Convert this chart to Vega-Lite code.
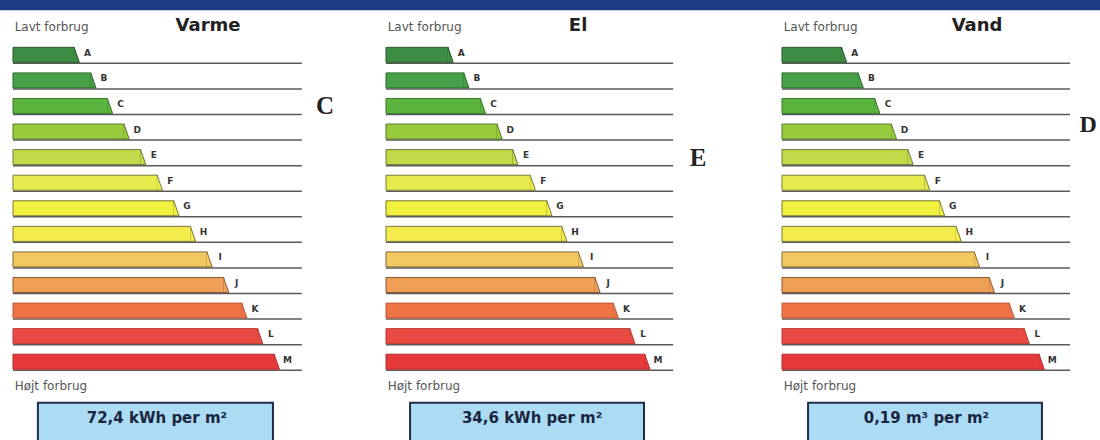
{
  "$schema": "https://vega.github.io/schema/vega-lite/v6.json",
  "padding": 0,
  "spacing": 0,
  "bounds": "flush",
  "background": "white",
  "config": {"view": {"stroke": null}, "concat": {"spacing": 0}},
  "datasets": {
    "varme": [
      {"grade": "A", "row": 1, "len": 4}, {"grade": "B", "row": 2, "len": 5}, {"grade": "C", "row": 3, "len": 6},
      {"grade": "D", "row": 4, "len": 7}, {"grade": "E", "row": 5, "len": 8}, {"grade": "F", "row": 6, "len": 9},
      {"grade": "G", "row": 7, "len": 10}, {"grade": "H", "row": 8, "len": 11}, {"grade": "I", "row": 9, "len": 12},
      {"grade": "J", "row": 10, "len": 13}, {"grade": "K", "row": 11, "len": 14.1}, {"grade": "L", "row": 12, "len": 15.05},
      {"grade": "M", "row": 13, "len": 16.05}
    ],
    "el": [
      {"grade": "A", "row": 1, "len": 4.05}, {"grade": "B", "row": 2, "len": 5}, {"grade": "C", "row": 3, "len": 6},
      {"grade": "D", "row": 4, "len": 7}, {"grade": "E", "row": 5, "len": 7.95}, {"grade": "F", "row": 6, "len": 9},
      {"grade": "G", "row": 7, "len": 10}, {"grade": "H", "row": 8, "len": 10.9}, {"grade": "I", "row": 9, "len": 11.9},
      {"grade": "J", "row": 10, "len": 12.9}, {"grade": "K", "row": 11, "len": 14}, {"grade": "L", "row": 12, "len": 15},
      {"grade": "M", "row": 13, "len": 15.9}
    ],
    "vand": [
      {"grade": "A", "row": 1, "len": 3.9}, {"grade": "B", "row": 2, "len": 4.9}, {"grade": "C", "row": 3, "len": 5.9},
      {"grade": "D", "row": 4, "len": 6.9}, {"grade": "E", "row": 5, "len": 7.9}, {"grade": "F", "row": 6, "len": 8.9},
      {"grade": "G", "row": 7, "len": 9.8}, {"grade": "H", "row": 8, "len": 10.8}, {"grade": "I", "row": 9, "len": 11.9},
      {"grade": "J", "row": 10, "len": 12.8}, {"grade": "K", "row": 11, "len": 14}, {"grade": "L", "row": 12, "len": 14.9},
      {"grade": "M", "row": 13, "len": 15.8}
    ]
  },
  "hconcat": [
    {
      "width": 373, "height": 440,
      "data": {"name": "varme"},
      "layer": [
        {"data": {"values": [{}]}, "mark": {"type": "rect", "fill": "#1d3c87", "clip": true},
         "encoding": {"x": {"datum": -5, "type": "quantitative", "scale": {"domain": [-0.783, 21.687], "nice": false, "zero": false}, "axis": null}, "x2": {"datum": 40},
                      "y": {"datum": -2, "type": "quantitative", "scale": {"domain": [-0.949, 15.866], "reverse": true, "nice": false, "zero": false}, "axis": null}, "y2": {"datum": -0.74}}},
        {"mark": {"type": "rule", "color": "#5a5a5a", "strokeWidth": 1.5, "yOffset": 8.5},
         "encoding": {"x": {"datum": 0, "type": "quantitative", "scale": {"domain": [-0.783, 21.687], "nice": false, "zero": false}, "axis": null}, "x2": {"datum": 17.4},
                      "y": {"field": "row", "type": "quantitative", "scale": {"domain": [-0.949, 15.866], "reverse": true, "nice": false, "zero": false}, "axis": null}}},
        {"mark": {"type": "bar", "orient": "horizontal", "size": 15, "xOffset": -5, "strokeWidth": 1},
         "encoding": {"x": {"field": "len", "type": "quantitative", "scale": {"domain": [-0.783, 21.687], "nice": false, "zero": false}, "axis": null}, "x2": {"datum": 0},
                      "y": {"field": "row", "type": "quantitative", "scale": {"domain": [-0.949, 15.866], "reverse": true, "nice": false, "zero": false}, "axis": null},
                      "fill": {"field": "grade", "type": "nominal", "legend": null, "scale": {"domain": ["A","B","C","D","E","F","G","H","I","J","K","L","M"], "range": ["#3c8c44","#47a047","#5ab43e","#98ca3e","#c2da4a","#e6ec4e","#f2f03e","#f4ec4c","#f2c860","#efa056","#ee7446","#e94b42","#e6393a"]}},
                      "stroke": {"field": "grade", "type": "nominal", "legend": null, "scale": {"domain": ["A","B","C","D","E","F","G","H","I","J","K","L","M"], "range": ["#2a5a2e","#2e6a30","#3c7a2c","#5a7a2a","#6a7a3a","#7a7a3a","#7a7a3a","#7a7a3a","#8a6a3a","#8a5a3a","#c05a3a","#b83a34","#b82e30"]}}}},
        {"mark": {"type": "point", "shape": "M-0.7,-1 L0,1 L-0.7,1", "size": 225, "filled": true, "opacity": 1, "strokeWidth": 1},
         "encoding": {"x": {"field": "len", "type": "quantitative", "scale": {"domain": [-0.783, 21.687], "nice": false, "zero": false}, "axis": null},
                      "y": {"field": "row", "type": "quantitative", "scale": {"domain": [-0.949, 15.866], "reverse": true, "nice": false, "zero": false}, "axis": null},
                      "fill": {"field": "grade", "type": "nominal", "legend": null, "scale": {"domain": ["A","B","C","D","E","F","G","H","I","J","K","L","M"], "range": ["#3c8c44","#47a047","#5ab43e","#98ca3e","#c2da4a","#e6ec4e","#f2f03e","#f4ec4c","#f2c860","#efa056","#ee7446","#e94b42","#e6393a"]}},
                      "stroke": {"field": "grade", "type": "nominal", "legend": null, "scale": {"domain": ["A","B","C","D","E","F","G","H","I","J","K","L","M"], "range": ["#2a5a2e","#2e6a30","#3c7a2c","#5a7a2a","#6a7a3a","#7a7a3a","#7a7a3a","#7a7a3a","#8a6a3a","#8a5a3a","#c05a3a","#b83a34","#b82e30"]}}}},
        {"mark": {"type": "text", "font": "DejaVu Sans", "fontWeight": "bold", "fontSize": 9, "color": "#333", "align": "center", "dx": 8, "dy": -2},
         "encoding": {"x": {"field": "len", "type": "quantitative", "scale": {"domain": [-0.783, 21.687], "nice": false, "zero": false}, "axis": null},
                      "y": {"field": "row", "type": "quantitative", "scale": {"domain": [-0.949, 15.866], "reverse": true, "nice": false, "zero": false}, "axis": null},
                      "text": {"field": "grade"}}},
        {"data": {"values": [{}]}, "mark": {"type": "text", "text": "Lavt forbrug", "font": "DejaVu Sans", "fontSize": 12, "color": "#555", "align": "left", "baseline": "middle"},
         "encoding": {"x": {"datum": 0.1, "type": "quantitative", "scale": {"domain": [-0.783, 21.687], "nice": false, "zero": false}, "axis": null},
                      "y": {"datum": -0.07, "type": "quantitative", "scale": {"domain": [-0.949, 15.866], "reverse": true, "nice": false, "zero": false}, "axis": null}}},
        {"data": {"values": [{}]}, "mark": {"type": "text", "text": "Højt forbrug", "font": "DejaVu Sans", "fontSize": 12, "color": "#555", "align": "left", "baseline": "middle"},
         "encoding": {"x": {"datum": 0.1, "type": "quantitative", "scale": {"domain": [-0.783, 21.687], "nice": false, "zero": false}, "axis": null},
                      "y": {"datum": 13.95, "type": "quantitative", "scale": {"domain": [-0.949, 15.866], "reverse": true, "nice": false, "zero": false}, "axis": null}}},
        {"data": {"values": [{}]}, "mark": {"type": "text", "text": "Varme", "font": "DejaVu Sans", "fontWeight": "bold", "fontSize": 18, "color": "#222", "align": "center", "baseline": "middle"},
         "encoding": {"x": {"datum": 11.75, "type": "quantitative", "scale": {"domain": [-0.783, 21.687], "nice": false, "zero": false}, "axis": null},
                      "y": {"datum": -0.11, "type": "quantitative", "scale": {"domain": [-0.949, 15.866], "reverse": true, "nice": false, "zero": false}, "axis": null}}},
        {"data": {"values": [{}]}, "mark": {"type": "text", "text": "C", "font": "Liberation Serif", "fontWeight": "bold", "fontSize": 25, "color": "#222", "align": "center", "baseline": "middle", "clip": true},
         "encoding": {"x": {"datum": 18.8, "type": "quantitative", "scale": {"domain": [-0.783, 21.687], "nice": false, "zero": false}, "axis": null},
                      "y": {"datum": 3.0, "type": "quantitative", "scale": {"domain": [-0.949, 15.866], "reverse": true, "nice": false, "zero": false}, "axis": null}}},
        {"data": {"values": [{}]}, "mark": {"type": "rect", "fill": "#acdcf4", "stroke": "#1f2d47", "strokeWidth": 2, "clip": true},
         "encoding": {"x": {"datum": 1.5, "type": "quantitative", "scale": {"domain": [-0.783, 21.687], "nice": false, "zero": false}, "axis": null}, "x2": {"datum": 15.66},
                      "y": {"datum": 14.6, "type": "quantitative", "scale": {"domain": [-0.949, 15.866], "reverse": true, "nice": false, "zero": false}, "axis": null}, "y2": {"datum": 16.5}}},
        {"data": {"values": [{}]}, "mark": {"type": "text", "text": "72,4 kWh per m²", "font": "DejaVu Sans", "fontWeight": "bold", "fontSize": 15, "color": "#1a2540", "align": "center", "baseline": "middle"},
         "encoding": {"x": {"datum": 8.67, "type": "quantitative", "scale": {"domain": [-0.783, 21.687], "nice": false, "zero": false}, "axis": null},
                      "y": {"datum": 15.2, "type": "quantitative", "scale": {"domain": [-0.949, 15.866], "reverse": true, "nice": false, "zero": false}, "axis": null}}}
      ]
    },
    {
      "width": 396, "height": 440,
      "data": {"name": "el"},
      "layer": [
        {"data": {"values": [{}]}, "mark": {"type": "rect", "fill": "#1d3c87", "clip": true},
         "encoding": {"x": {"datum": -5, "type": "quantitative", "scale": {"domain": [-0.783, 23.07], "nice": false, "zero": false}, "axis": null}, "x2": {"datum": 40},
                      "y": {"datum": -2, "type": "quantitative", "scale": {"domain": [-0.949, 15.866], "reverse": true, "nice": false, "zero": false}, "axis": null}, "y2": {"datum": -0.74}}},
        {"mark": {"type": "rule", "color": "#5a5a5a", "strokeWidth": 1.5, "yOffset": 8.5},
         "encoding": {"x": {"datum": 0, "type": "quantitative", "scale": {"domain": [-0.783, 23.07], "nice": false, "zero": false}, "axis": null}, "x2": {"datum": 17.3},
                      "y": {"field": "row", "type": "quantitative", "scale": {"domain": [-0.949, 15.866], "reverse": true, "nice": false, "zero": false}, "axis": null}}},
        {"mark": {"type": "bar", "orient": "horizontal", "size": 15, "xOffset": -5, "strokeWidth": 1},
         "encoding": {"x": {"field": "len", "type": "quantitative", "scale": {"domain": [-0.783, 23.07], "nice": false, "zero": false}, "axis": null}, "x2": {"datum": 0},
                      "y": {"field": "row", "type": "quantitative", "scale": {"domain": [-0.949, 15.866], "reverse": true, "nice": false, "zero": false}, "axis": null},
                      "fill": {"field": "grade", "type": "nominal", "legend": null, "scale": {"domain": ["A","B","C","D","E","F","G","H","I","J","K","L","M"], "range": ["#3c8c44","#47a047","#5ab43e","#98ca3e","#c2da4a","#e6ec4e","#f2f03e","#f4ec4c","#f2c860","#efa056","#ee7446","#e94b42","#e6393a"]}},
                      "stroke": {"field": "grade", "type": "nominal", "legend": null, "scale": {"domain": ["A","B","C","D","E","F","G","H","I","J","K","L","M"], "range": ["#2a5a2e","#2e6a30","#3c7a2c","#5a7a2a","#6a7a3a","#7a7a3a","#7a7a3a","#7a7a3a","#8a6a3a","#8a5a3a","#c05a3a","#b83a34","#b82e30"]}}}},
        {"mark": {"type": "point", "shape": "M-0.7,-1 L0,1 L-0.7,1", "size": 225, "filled": true, "opacity": 1, "strokeWidth": 1},
         "encoding": {"x": {"field": "len", "type": "quantitative", "scale": {"domain": [-0.783, 23.07], "nice": false, "zero": false}, "axis": null},
                      "y": {"field": "row", "type": "quantitative", "scale": {"domain": [-0.949, 15.866], "reverse": true, "nice": false, "zero": false}, "axis": null},
                      "fill": {"field": "grade", "type": "nominal", "legend": null, "scale": {"domain": ["A","B","C","D","E","F","G","H","I","J","K","L","M"], "range": ["#3c8c44","#47a047","#5ab43e","#98ca3e","#c2da4a","#e6ec4e","#f2f03e","#f4ec4c","#f2c860","#efa056","#ee7446","#e94b42","#e6393a"]}},
                      "stroke": {"field": "grade", "type": "nominal", "legend": null, "scale": {"domain": ["A","B","C","D","E","F","G","H","I","J","K","L","M"], "range": ["#2a5a2e","#2e6a30","#3c7a2c","#5a7a2a","#6a7a3a","#7a7a3a","#7a7a3a","#7a7a3a","#8a6a3a","#8a5a3a","#c05a3a","#b83a34","#b82e30"]}}}},
        {"mark": {"type": "text", "font": "DejaVu Sans", "fontWeight": "bold", "fontSize": 9, "color": "#333", "align": "center", "dx": 8, "dy": -2},
         "encoding": {"x": {"field": "len", "type": "quantitative", "scale": {"domain": [-0.783, 23.07], "nice": false, "zero": false}, "axis": null},
                      "y": {"field": "row", "type": "quantitative", "scale": {"domain": [-0.949, 15.866], "reverse": true, "nice": false, "zero": false}, "axis": null},
                      "text": {"field": "grade"}}},
        {"data": {"values": [{}]}, "mark": {"type": "text", "text": "Lavt forbrug", "font": "DejaVu Sans", "fontSize": 12, "color": "#555", "align": "left", "baseline": "middle"},
         "encoding": {"x": {"datum": 0.1, "type": "quantitative", "scale": {"domain": [-0.783, 23.07], "nice": false, "zero": false}, "axis": null},
                      "y": {"datum": -0.07, "type": "quantitative", "scale": {"domain": [-0.949, 15.866], "reverse": true, "nice": false, "zero": false}, "axis": null}}},
        {"data": {"values": [{}]}, "mark": {"type": "text", "text": "Højt forbrug", "font": "DejaVu Sans", "fontSize": 12, "color": "#555", "align": "left", "baseline": "middle"},
         "encoding": {"x": {"datum": 0.1, "type": "quantitative", "scale": {"domain": [-0.783, 23.07], "nice": false, "zero": false}, "axis": null},
                      "y": {"datum": 13.95, "type": "quantitative", "scale": {"domain": [-0.949, 15.866], "reverse": true, "nice": false, "zero": false}, "axis": null}}},
        {"data": {"values": [{}]}, "mark": {"type": "text", "text": "El", "font": "DejaVu Sans", "fontWeight": "bold", "fontSize": 18, "color": "#222", "align": "center", "baseline": "middle"},
         "encoding": {"x": {"datum": 11.57, "type": "quantitative", "scale": {"domain": [-0.783, 23.07], "nice": false, "zero": false}, "axis": null},
                      "y": {"datum": -0.11, "type": "quantitative", "scale": {"domain": [-0.949, 15.866], "reverse": true, "nice": false, "zero": false}, "axis": null}}},
        {"data": {"values": [{}]}, "mark": {"type": "text", "text": "E", "font": "Liberation Serif", "fontWeight": "bold", "fontSize": 25, "color": "#222", "align": "center", "baseline": "middle", "clip": true},
         "encoding": {"x": {"datum": 18.8, "type": "quantitative", "scale": {"domain": [-0.783, 23.07], "nice": false, "zero": false}, "axis": null},
                      "y": {"datum": 5.05, "type": "quantitative", "scale": {"domain": [-0.949, 15.866], "reverse": true, "nice": false, "zero": false}, "axis": null}}},
        {"data": {"values": [{}]}, "mark": {"type": "rect", "fill": "#acdcf4", "stroke": "#1f2d47", "strokeWidth": 2, "clip": true},
         "encoding": {"x": {"datum": 1.45, "type": "quantitative", "scale": {"domain": [-0.783, 23.07], "nice": false, "zero": false}, "axis": null}, "x2": {"datum": 15.54},
                      "y": {"datum": 14.6, "type": "quantitative", "scale": {"domain": [-0.949, 15.866], "reverse": true, "nice": false, "zero": false}, "axis": null}, "y2": {"datum": 16.5}}},
        {"data": {"values": [{}]}, "mark": {"type": "text", "text": "34,6 kWh per m²", "font": "DejaVu Sans", "fontWeight": "bold", "fontSize": 15, "color": "#1a2540", "align": "center", "baseline": "middle"},
         "encoding": {"x": {"datum": 8.8, "type": "quantitative", "scale": {"domain": [-0.783, 23.07], "nice": false, "zero": false}, "axis": null},
                      "y": {"datum": 15.2, "type": "quantitative", "scale": {"domain": [-0.949, 15.866], "reverse": true, "nice": false, "zero": false}, "axis": null}}}
      ]
    },
    {
      "width": 331, "height": 440,
      "data": {"name": "vand"},
      "layer": [
        {"data": {"values": [{}]}, "mark": {"type": "rect", "fill": "#1d3c87", "clip": true},
         "encoding": {"x": {"datum": -5, "type": "quantitative", "scale": {"domain": [-0.783, 19.157], "nice": false, "zero": false}, "axis": null}, "x2": {"datum": 40},
                      "y": {"datum": -2, "type": "quantitative", "scale": {"domain": [-0.949, 15.866], "reverse": true, "nice": false, "zero": false}, "axis": null}, "y2": {"datum": -0.74}}},
        {"mark": {"type": "rule", "color": "#5a5a5a", "strokeWidth": 1.5, "yOffset": 8.5},
         "encoding": {"x": {"datum": 0, "type": "quantitative", "scale": {"domain": [-0.783, 19.157], "nice": false, "zero": false}, "axis": null}, "x2": {"datum": 17.35},
                      "y": {"field": "row", "type": "quantitative", "scale": {"domain": [-0.949, 15.866], "reverse": true, "nice": false, "zero": false}, "axis": null}}},
        {"mark": {"type": "bar", "orient": "horizontal", "size": 15, "xOffset": -5, "strokeWidth": 1},
         "encoding": {"x": {"field": "len", "type": "quantitative", "scale": {"domain": [-0.783, 19.157], "nice": false, "zero": false}, "axis": null}, "x2": {"datum": 0},
                      "y": {"field": "row", "type": "quantitative", "scale": {"domain": [-0.949, 15.866], "reverse": true, "nice": false, "zero": false}, "axis": null},
                      "fill": {"field": "grade", "type": "nominal", "legend": null, "scale": {"domain": ["A","B","C","D","E","F","G","H","I","J","K","L","M"], "range": ["#3c8c44","#47a047","#5ab43e","#98ca3e","#c2da4a","#e6ec4e","#f2f03e","#f4ec4c","#f2c860","#efa056","#ee7446","#e94b42","#e6393a"]}},
                      "stroke": {"field": "grade", "type": "nominal", "legend": null, "scale": {"domain": ["A","B","C","D","E","F","G","H","I","J","K","L","M"], "range": ["#2a5a2e","#2e6a30","#3c7a2c","#5a7a2a","#6a7a3a","#7a7a3a","#7a7a3a","#7a7a3a","#8a6a3a","#8a5a3a","#c05a3a","#b83a34","#b82e30"]}}}},
        {"mark": {"type": "point", "shape": "M-0.7,-1 L0,1 L-0.7,1", "size": 225, "filled": true, "opacity": 1, "strokeWidth": 1},
         "encoding": {"x": {"field": "len", "type": "quantitative", "scale": {"domain": [-0.783, 19.157], "nice": false, "zero": false}, "axis": null},
                      "y": {"field": "row", "type": "quantitative", "scale": {"domain": [-0.949, 15.866], "reverse": true, "nice": false, "zero": false}, "axis": null},
                      "fill": {"field": "grade", "type": "nominal", "legend": null, "scale": {"domain": ["A","B","C","D","E","F","G","H","I","J","K","L","M"], "range": ["#3c8c44","#47a047","#5ab43e","#98ca3e","#c2da4a","#e6ec4e","#f2f03e","#f4ec4c","#f2c860","#efa056","#ee7446","#e94b42","#e6393a"]}},
                      "stroke": {"field": "grade", "type": "nominal", "legend": null, "scale": {"domain": ["A","B","C","D","E","F","G","H","I","J","K","L","M"], "range": ["#2a5a2e","#2e6a30","#3c7a2c","#5a7a2a","#6a7a3a","#7a7a3a","#7a7a3a","#7a7a3a","#8a6a3a","#8a5a3a","#c05a3a","#b83a34","#b82e30"]}}}},
        {"mark": {"type": "text", "font": "DejaVu Sans", "fontWeight": "bold", "fontSize": 9, "color": "#333", "align": "center", "dx": 8, "dy": -2},
         "encoding": {"x": {"field": "len", "type": "quantitative", "scale": {"domain": [-0.783, 19.157], "nice": false, "zero": false}, "axis": null},
                      "y": {"field": "row", "type": "quantitative", "scale": {"domain": [-0.949, 15.866], "reverse": true, "nice": false, "zero": false}, "axis": null},
                      "text": {"field": "grade"}}},
        {"data": {"values": [{}]}, "mark": {"type": "text", "text": "Lavt forbrug", "font": "DejaVu Sans", "fontSize": 12, "color": "#555", "align": "left", "baseline": "middle"},
         "encoding": {"x": {"datum": 0.1, "type": "quantitative", "scale": {"domain": [-0.783, 19.157], "nice": false, "zero": false}, "axis": null},
                      "y": {"datum": -0.07, "type": "quantitative", "scale": {"domain": [-0.949, 15.866], "reverse": true, "nice": false, "zero": false}, "axis": null}}},
        {"data": {"values": [{}]}, "mark": {"type": "text", "text": "Højt forbrug", "font": "DejaVu Sans", "fontSize": 12, "color": "#555", "align": "left", "baseline": "middle"},
         "encoding": {"x": {"datum": 0.1, "type": "quantitative", "scale": {"domain": [-0.783, 19.157], "nice": false, "zero": false}, "axis": null},
                      "y": {"datum": 13.95, "type": "quantitative", "scale": {"domain": [-0.949, 15.866], "reverse": true, "nice": false, "zero": false}, "axis": null}}},
        {"data": {"values": [{}]}, "mark": {"type": "text", "text": "Vand", "font": "DejaVu Sans", "fontWeight": "bold", "fontSize": 18, "color": "#222", "align": "center", "baseline": "middle"},
         "encoding": {"x": {"datum": 11.75, "type": "quantitative", "scale": {"domain": [-0.783, 19.157], "nice": false, "zero": false}, "axis": null},
                      "y": {"datum": -0.11, "type": "quantitative", "scale": {"domain": [-0.949, 15.866], "reverse": true, "nice": false, "zero": false}, "axis": null}}},
        {"data": {"values": [{}]}, "mark": {"type": "text", "text": "D", "font": "Liberation Serif", "fontWeight": "bold", "fontSize": 24, "color": "#222", "align": "center", "baseline": "middle"},
         "encoding": {"x": {"datum": 18.45, "type": "quantitative", "scale": {"domain": [-0.783, 19.157], "nice": false, "zero": false}, "axis": null},
                      "y": {"datum": 3.75, "type": "quantitative", "scale": {"domain": [-0.949, 15.866], "reverse": true, "nice": false, "zero": false}, "axis": null}}},
        {"data": {"values": [{}]}, "mark": {"type": "rect", "fill": "#acdcf4", "stroke": "#1f2d47", "strokeWidth": 2, "clip": true},
         "encoding": {"x": {"datum": 1.57, "type": "quantitative", "scale": {"domain": [-0.783, 19.157], "nice": false, "zero": false}, "axis": null}, "x2": {"datum": 15.66},
                      "y": {"datum": 14.6, "type": "quantitative", "scale": {"domain": [-0.949, 15.866], "reverse": true, "nice": false, "zero": false}, "axis": null}, "y2": {"datum": 16.5}}},
        {"data": {"values": [{}]}, "mark": {"type": "text", "text": "0,19 m³ per m²", "font": "DejaVu Sans", "fontWeight": "bold", "fontSize": 15, "color": "#1a2540", "align": "center", "baseline": "middle"},
         "encoding": {"x": {"datum": 8.7, "type": "quantitative", "scale": {"domain": [-0.783, 19.157], "nice": false, "zero": false}, "axis": null},
                      "y": {"datum": 15.2, "type": "quantitative", "scale": {"domain": [-0.949, 15.866], "reverse": true, "nice": false, "zero": false}, "axis": null}}}
      ]
    }
  ]
}
